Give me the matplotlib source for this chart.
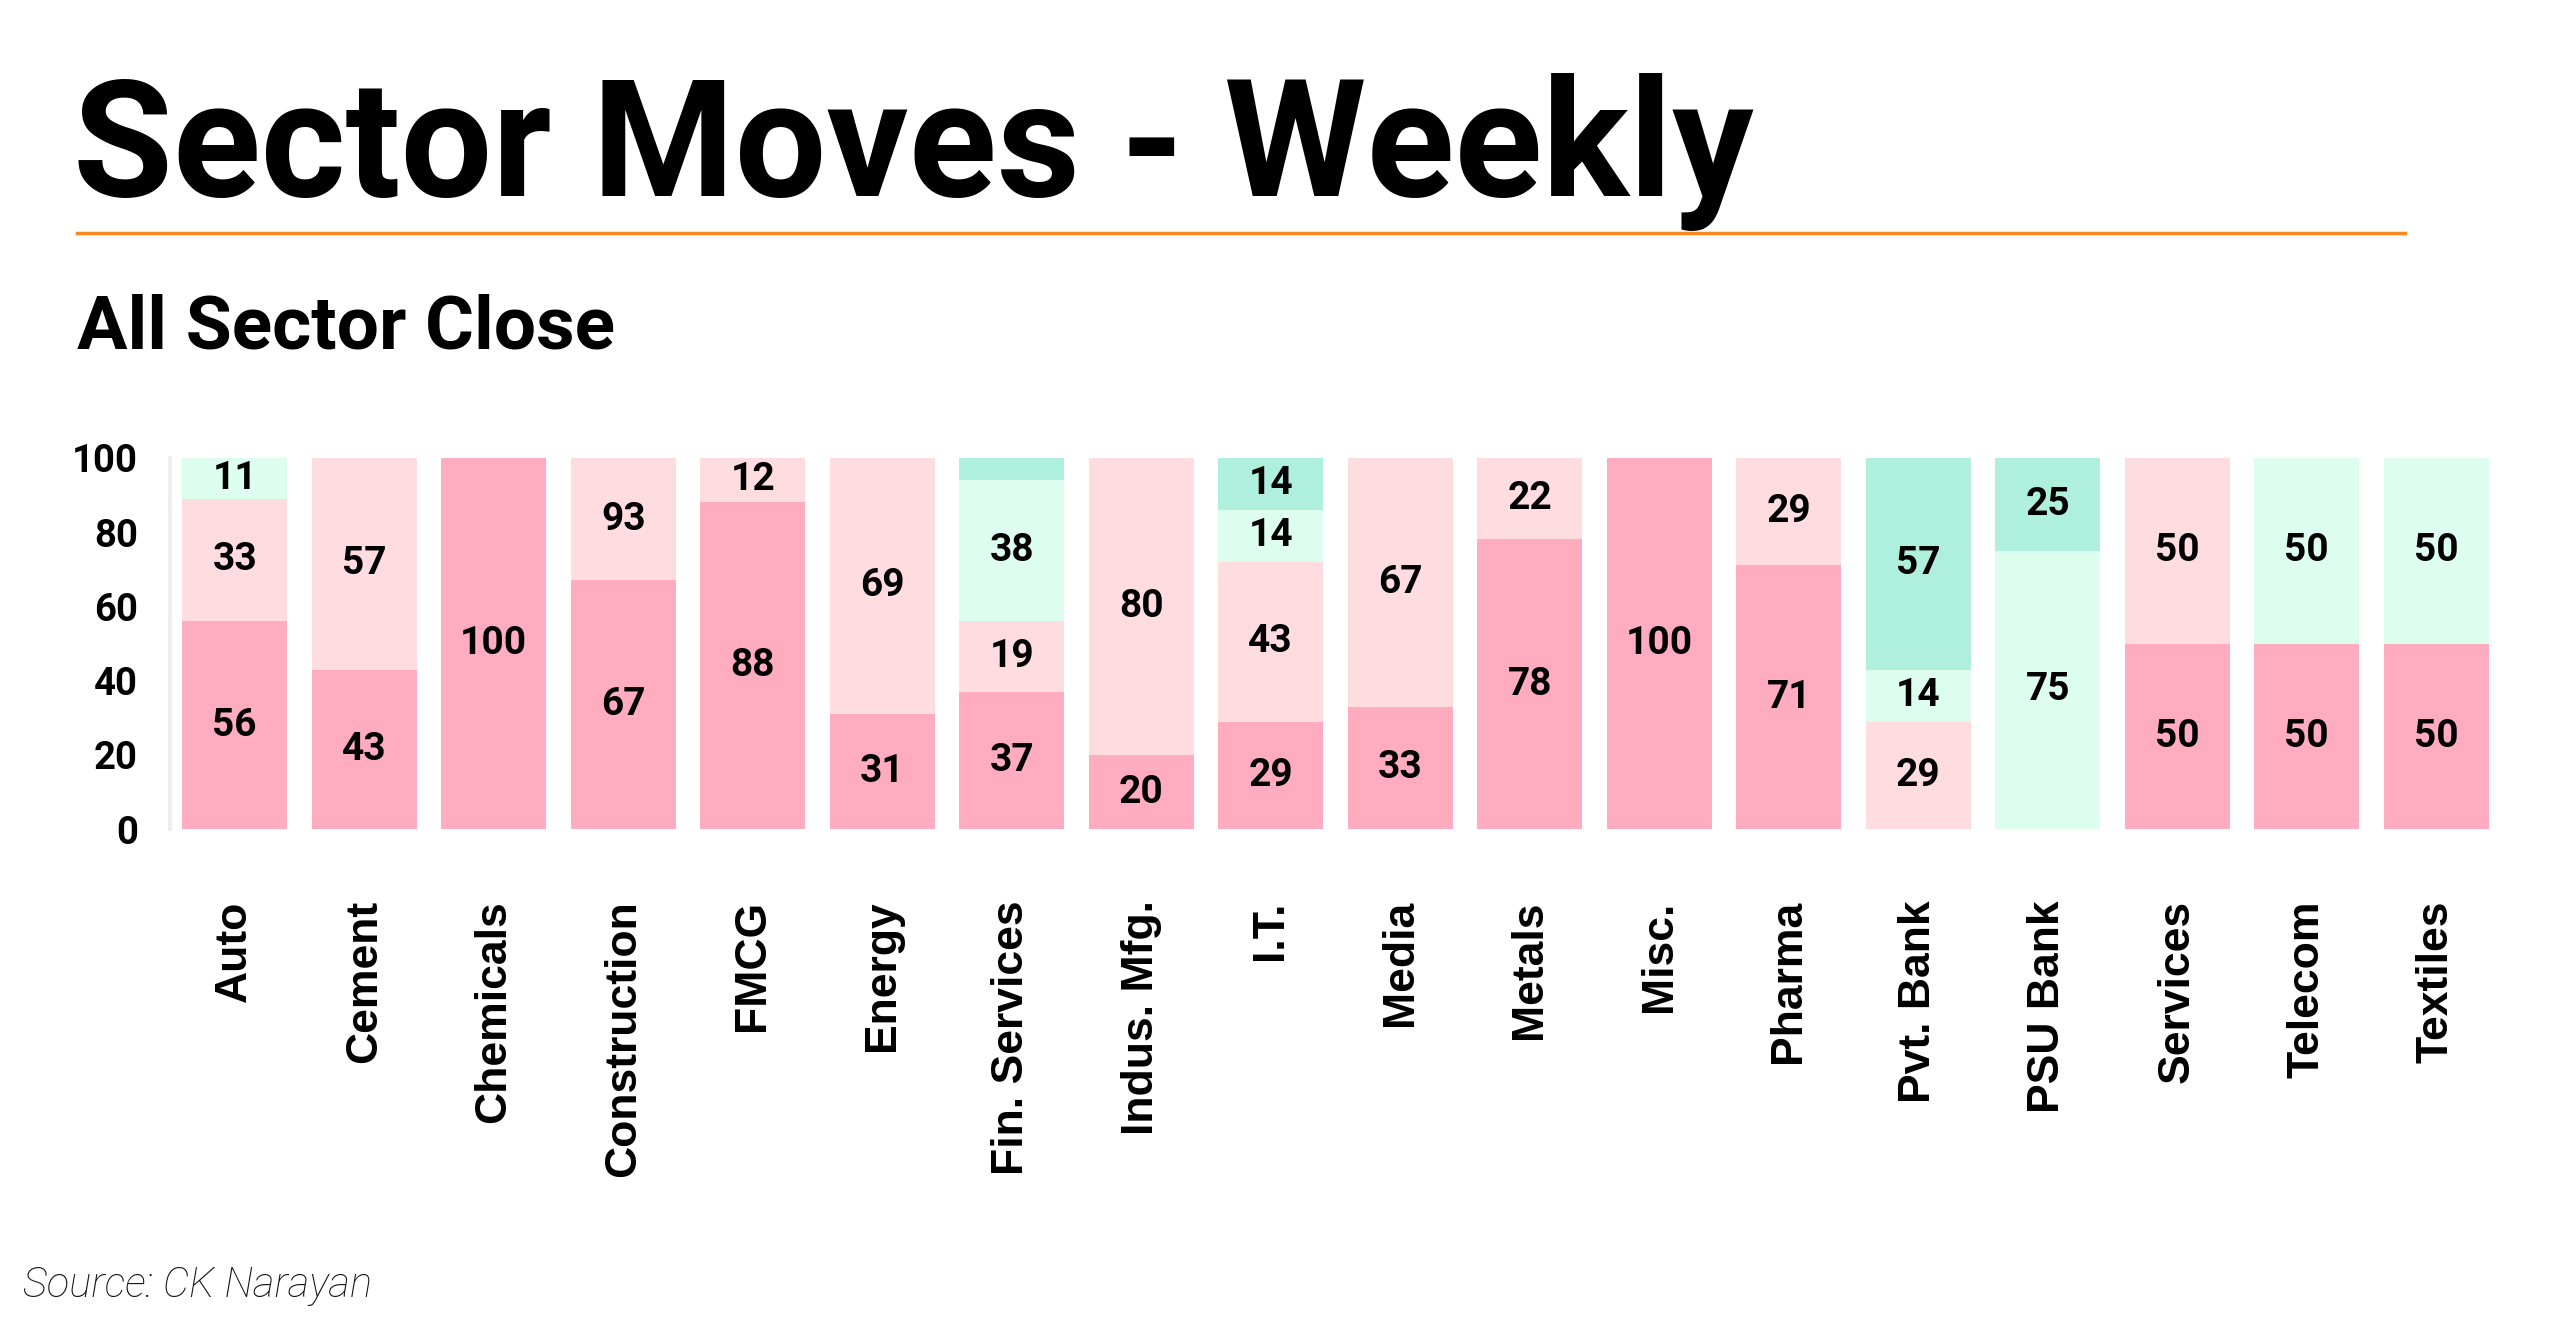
import matplotlib
matplotlib.use("Agg")
import matplotlib.pyplot as plt
from matplotlib.lines import Line2D
import numpy as np

categories = ["Auto", "Cement", "Chemicals", "Construction", "FMCG", "Energy",
              "Fin. Services", "Indus. Mfg.", "I.T.", "Media", "Metals", "Misc.",
              "Pharma", "Pvt. Bank", "PSU Bank", "Services", "Telecom", "Textiles"]

strong_down = [56, 43, 100, 67, 88, 31, 37, 20, 29, 33, 78, 100, 71, 0, 0, 50, 50, 50]
mild_down   = [33, 57, 0, 33, 12, 69, 19, 80, 43, 67, 22, 0, 29, 29, 0, 50, 0, 0]
mild_up     = [11, 0, 0, 0, 0, 0, 38, 0, 14, 0, 0, 0, 0, 14, 75, 0, 50, 50]
strong_up   = [0, 0, 0, 0, 0, 0, 6, 0, 14, 0, 0, 0, 0, 57, 25, 0, 0, 0]

# labels as printed on the chart (Construction's light segment reads "93")
strong_down_labels = ["56", "43", "100", "67", "88", "31", "37", "20", "29", "33", "78", "100", "71", "", "", "50", "50", "50"]
mild_down_labels   = ["33", "57", "", "93", "12", "69", "19", "80", "43", "67", "22", "", "29", "29", "", "50", "", ""]
mild_up_labels     = ["11", "", "", "", "", "", "38", "", "14", "", "", "", "", "14", "75", "", "50", "50"]
strong_up_labels   = ["", "", "", "", "", "", "", "", "14", "", "", "", "", "57", "25", "", "", ""]

yticks = [0, 20, 40, 60, 80, 100]

W, H = 2560, 1339
DPI = 100
fig = plt.figure(figsize=(W / DPI, H / DPI), dpi=DPI)
fig.patch.set_facecolor("white")

ax_left, ax_right = 170 / W, 2501 / W
ax_bottom, ax_top = (H - 829.3) / H, (H - 457.7) / H
ax = fig.add_axes([ax_left, ax_bottom, ax_right - ax_left, ax_top - ax_bottom])

x = np.arange(len(categories))
bw = 0.81
series = [
    (strong_down, strong_down_labels, "#FFACC0"),
    (mild_down, mild_down_labels, "#FFDCDF"),
    (mild_up, mild_up_labels, "#DDFDEE"),
    (strong_up, strong_up_labels, "#AFEFDE"),
]
bottom = np.zeros(len(categories))
for vals, labs, col in series:
    v = np.array(vals, dtype=float)
    ax.bar(x, v, bottom=bottom, width=bw, color=col, edgecolor="none", zorder=2)
    for i, (val, lab) in enumerate(zip(v, labs)):
        if val > 0 and lab:
            ax.text(x[i], bottom[i] + val / 2, lab, ha="center", va="center",
                    fontsize=28, fontweight="bold", family="Roboto", color="black", zorder=3)
    bottom += v

ax.set_xlim(-0.5, len(categories) - 0.5)
ax.set_ylim(0, 100)
ax.set_yticks(yticks)
ax.set_yticklabels([str(t) for t in yticks], fontsize=27.5, fontweight="bold", family="Roboto")
ax.tick_params(axis="y", length=0, pad=23)
ax.set_xticks(x)
ax.set_xticklabels(categories, rotation=90, fontsize=32, fontweight="bold",
                   family="Liberation Sans", va="top", ha="center")
ax.tick_params(axis="x", length=0, pad=51)
for s in ["top", "right", "bottom"]:
    ax.spines[s].set_visible(False)
ax.spines["left"].set_color("#EEEEEE")
ax.spines["left"].set_linewidth(3)
ax.grid(False)

# Title
fig.text(73 / W, (H - 196) / H, "Sector Moves - Weekly", fontsize=117, fontweight="bold",
         family="Roboto", color="black", va="baseline", ha="left")
# Orange rule
fig.add_artist(Line2D([77 / W, 2405 / W], [(H - 232.5) / H, (H - 232.5) / H],
                      color="#F7891E", linewidth=2.5, transform=fig.transFigure))
# Subtitle
fig.text(77 / W, (H - 348) / H, "All Sector Close", fontsize=54, fontweight="bold",
         family="Roboto", color="black", va="baseline", ha="left")
# Source
fig.text(23 / W, (H - 1297) / H, "Source: CK Narayan", fontsize=30, fontweight="light",
         style="italic", family="Roboto", color="#111111", va="baseline", ha="left")

fig.savefig("out.png", dpi=DPI, facecolor="white")
